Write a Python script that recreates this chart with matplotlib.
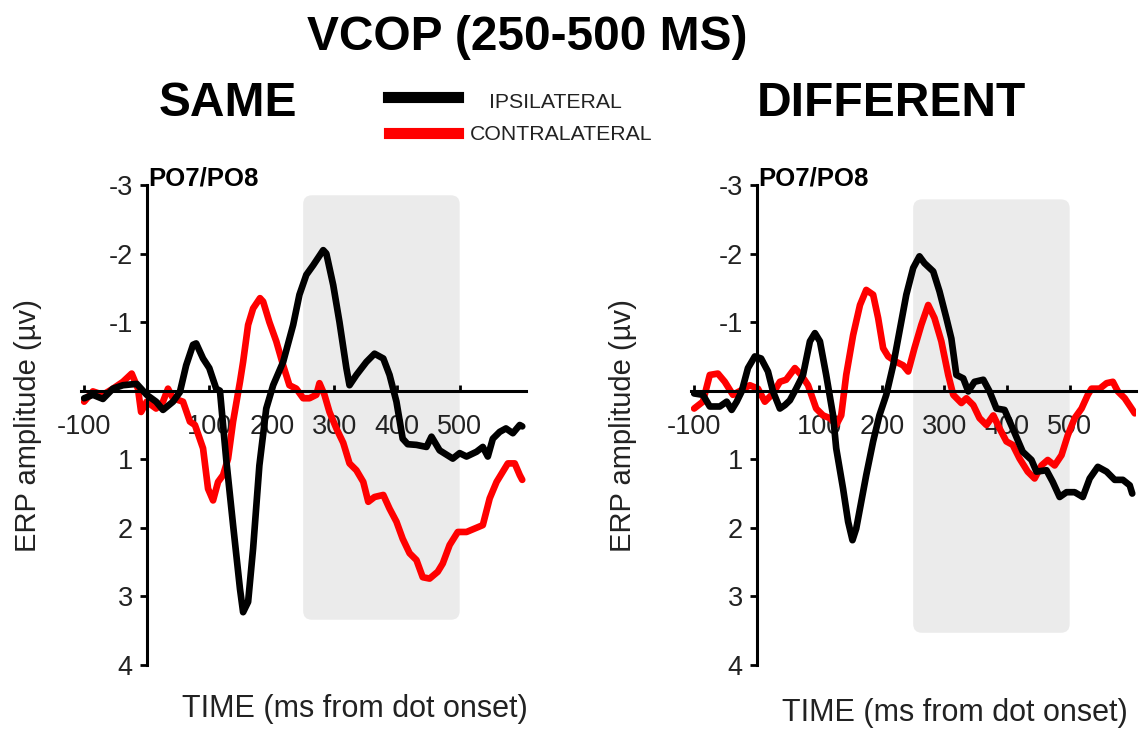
import matplotlib
matplotlib.use("Agg")
import matplotlib.pyplot as plt
from matplotlib.patches import FancyBboxPatch
from matplotlib.lines import Line2D

plt.rcParams['font.family'] = ['Liberation Sans', 'DejaVu Sans']
plt.rcParams['axes.unicode_minus'] = False

# ---- data (ms, microvolts; negative up) ----
same_ipsi_t = [-100, -86, -70, -54, -38, -16, 0, 15, 26, 42, 53, 63, 74, 79, 90, 100, 111, 117,
               127, 138, 149, 154, 162, 170, 180, 191, 202, 218, 234, 244, 255, 266, 282, 287,
               298, 308, 319, 324, 335, 351, 364, 378, 388, 399, 409, 417, 431, 447, 455, 468,
               489, 500, 511, 527, 537, 545, 553, 564, 574, 585, 596, 600]
same_ipsi_v = [0.11, 0.06, 0.12, -0.03, -0.08, -0.10, 0.06, 0.16, 0.28, 0.16, 0.02, -0.37, -0.67, -0.69, -0.47, -0.33, -0.03, 0.0,
               1.0, 1.96, 2.89, 3.23, 3.08, 2.3, 1.09, 0.26, -0.08, -0.42, -0.96, -1.4, -1.69, -1.83, -2.05, -2.0,
               -1.54, -1.0, -0.33, -0.08, -0.23, -0.42, -0.54, -0.47, -0.23, 0.16, 0.7, 0.78, 0.79, 0.82, 0.67, 0.87,
               0.99, 0.91, 0.96, 0.89, 0.82, 0.96, 0.7, 0.6, 0.55, 0.62, 0.5, 0.52]

same_contra_t = [-100, -86, -70, -54, -38, -24, -14, -9, 0, 15, 26, 34, 42, 58, 69, 77, 79, 90, 98,
                 106, 114, 122, 130, 138, 149, 154, 162, 170, 181, 186, 196, 207, 218, 228, 239,
                 250, 260, 271, 276, 284, 292, 303, 314, 324, 335, 346, 354, 364, 378, 388, 399,
                 409, 420, 431, 441, 452, 465, 473, 484, 497, 511, 524, 537, 548, 559, 569, 577,
                 588, 596, 600]
same_contra_v = [0.16, 0.01, 0.06, -0.03, -0.13, -0.25, -0.03, 0.31, 0.16, 0.26, 0.16, -0.03, 0.11, 0.16, 0.45, 0.5, 0.55, 0.84, 1.43,
                 1.6, 1.33, 1.23, 0.99, 0.45, -0.13, -0.42, -0.96, -1.2, -1.35, -1.3, -1.0, -0.72, -0.37, -0.08, -0.03,
                 0.11, 0.11, 0.06, -0.11, 0.06, 0.31, 0.55, 0.76, 1.06, 1.16, 1.33, 1.62, 1.55, 1.52, 1.72, 1.91,
                 2.16, 2.37, 2.47, 2.72, 2.74, 2.64, 2.52, 2.25, 2.06, 2.06, 2.01, 1.96, 1.57, 1.33, 1.18, 1.06,
                 1.06, 1.23, 1.3]

diff_ipsi_t = [-100, -86, -75, -59, -48, -40, -32, -24, -14, -3, 7, 18, 26, 37, 45, 53, 63, 74, 85, 93,
               101, 111, 122, 127, 138, 146, 153, 159, 167, 175, 186, 196, 207, 218, 228, 239, 250,
               260, 268, 282, 292, 303, 311, 319, 330, 338, 348, 362, 372, 383, 396, 409, 425, 439,
               447, 463, 473, 484, 495, 508, 521, 532, 545, 559, 572, 585, 596, 600]
diff_ipsi_v = [0.04, 0.06, 0.23, 0.23, 0.16, 0.28, 0.16, 0.01, -0.33, -0.5, -0.47, -0.28, 0.01, 0.26, 0.21, 0.14, -0.03, -0.23, -0.72, -0.84,
               -0.72, -0.23, 0.36, 0.84, 1.43, 1.91, 2.18, 2.01, 1.62, 1.23, 0.74, 0.36, 0.06, -0.37, -0.86, -1.4, -1.79,
               -1.96, -1.86, -1.74, -1.45, -1.06, -0.76, -0.23, -0.18, 0.01, -0.13, -0.16, 0.01, 0.26, 0.28, 0.55, 0.89, 1.01,
               1.18, 1.16, 1.33, 1.55, 1.48, 1.48, 1.55, 1.28, 1.11, 1.18, 1.3, 1.3, 1.38, 1.5]

diff_contra_t = [-100, -86, -75, -62, -51, -38, -24, -11, 2, 13, 26, 37, 47, 61, 71, 82, 95, 106, 117,
                 127, 135, 143, 154, 165, 175, 186, 194, 202, 210, 223, 234, 242, 252, 263, 274, 284,
                 295, 306, 314, 327, 335, 346, 356, 367, 378, 388, 399, 409, 420, 433, 444, 455, 465,
                 476, 487, 497, 508, 519, 529, 535, 548, 559, 569, 577, 588, 599, 604]
diff_contra_v = [0.26, 0.16, -0.23, -0.25, -0.13, 0.06, -0.01, -0.08, -0.03, 0.16, 0.04, -0.13, -0.16, -0.33, -0.23, -0.08, 0.26, 0.36, 0.4,
                 0.5, 0.36, -0.23, -0.81, -1.25, -1.47, -1.4, -1.06, -0.62, -0.5, -0.42, -0.37, -0.28, -0.62, -0.96, -1.25, -1.06,
                 -0.72, -0.23, 0.06, 0.18, 0.11, 0.21, 0.4, 0.5, 0.36, 0.55, 0.74, 0.79, 0.99, 1.18, 1.28, 1.09, 1.01,
                 1.09, 0.94, 0.65, 0.4, 0.26, 0.06, -0.03, -0.03, -0.11, -0.13, 0.01, 0.11, 0.26, 0.33]

x_ticks = [-100, 100, 200, 300, 400, 500]
x_ticklabels = ['-100', '100', '200', '300', '400', '500']
y_ticks = [-3, -2, -1, 1, 2, 3, 4]
y_ticklabels = ['-3', '-2', '-1', '1', '2', '3', '4']

# analysis window (ms) and the height of the grey box per panel
window = [250, 500]
shade_same = [-2.85, 3.34]
shade_diff = [-2.79, 3.53]

fig = plt.figure(figsize=(11.47, 7.31), dpi=100)
W, H = 1147, 731

def make_panel(left_px, ipsi, contra, shade):
    ax = fig.add_axes([left_px / W, (H - 665) / H, 445 / W, 480 / H])
    ax.set_xlim(-105, 606)
    ax.set_ylim(4, -3)
    for s in ['top', 'right']:
        ax.spines[s].set_visible(False)
    ax.spines['left'].set_position(('data', 0))
    ax.spines['bottom'].set_position(('data', 0))
    ax.spines['left'].set_linewidth(2.2)
    ax.spines['bottom'].set_linewidth(2.2)
    ax.set_xticks(x_ticks)
    ax.set_xticklabels(x_ticklabels)
    ax.set_yticks(y_ticks)
    ax.set_yticklabels(y_ticklabels)
    ax.tick_params(axis='x', direction='in', length=4, width=2, pad=17, labelsize=19.5)
    ax.tick_params(axis='y', direction='out', length=5, width=2, pad=5, labelsize=19.5)
    for lab in ax.get_xticklabels() + ax.get_yticklabels():
        lab.set_color('#222222')

    # rounded grey window; mutation_aspect converts the corner radius to y units
    box = FancyBboxPatch((window[0], shade[0]), window[1] - window[0], shade[1] - shade[0],
                         boxstyle='round,pad=0,rounding_size=14', mutation_aspect=0.626 / 68.5,
                         facecolor='#ebebeb', edgecolor='none', zorder=0)
    ax.add_patch(box)

    ax.plot(contra[0], contra[1], color='#ff0000', lw=4.8, solid_joinstyle='round', solid_capstyle='round', zorder=2)
    ax.plot(ipsi[0], ipsi[1], color='black', lw=4.8, solid_joinstyle='round', solid_capstyle='round', zorder=3)

    ax.text(2, -3, 'PO7/PO8', fontsize=18.5, fontweight='bold', va='baseline', ha='left')
    ax.set_ylabel('ERP amplitude (µv)', fontsize=21, color='#222222')
    ax.set_xlabel('TIME (ms from dot onset)', fontsize=22, color='#222222')
    return ax

ax1 = make_panel(81, (same_ipsi_t, same_ipsi_v), (same_contra_t, same_contra_v), shade_same)
ax1.yaxis.set_label_coords(-0.088, 0.498)
ax1.xaxis.set_label_coords(0.616, -0.06)
ax2 = make_panel(691, (diff_ipsi_t, diff_ipsi_v), (diff_contra_t, diff_contra_v), shade_diff)
ax2.yaxis.set_label_coords(-0.121, 0.498)
ax2.xaxis.set_label_coords(0.593, -0.069)

fig.text(527 / W, 1 - 38 / H, 'VCOP (250-500 MS)', fontsize=34.5, fontweight='bold', ha='center', va='center')
fig.text(228 / W, 1 - 104 / H, 'SAME', fontsize=34.5, fontweight='bold', ha='center', va='center')
fig.text(891 / W, 1 - 104 / H, 'DIFFERENT', fontsize=34.5, fontweight='bold', ha='center', va='center')

# legend
fig.add_artist(Line2D([388 / W, 458 / W], [1 - 97 / H, 1 - 97 / H], color='black', lw=8, transform=fig.transFigure))
fig.add_artist(Line2D([389 / W, 458 / W], [1 - 133 / H, 1 - 133 / H], color='#ff0000', lw=8, transform=fig.transFigure))
fig.text(489 / W, 1 - 103 / H, 'IPSILATERAL', fontsize=15.3, ha='left', va='center', color='#222222')
fig.text(470 / W, 1 - 135 / H, 'CONTRALATERAL', fontsize=15.3, ha='left', va='center', color='#222222')

fig.savefig('out.png', dpi=100)
